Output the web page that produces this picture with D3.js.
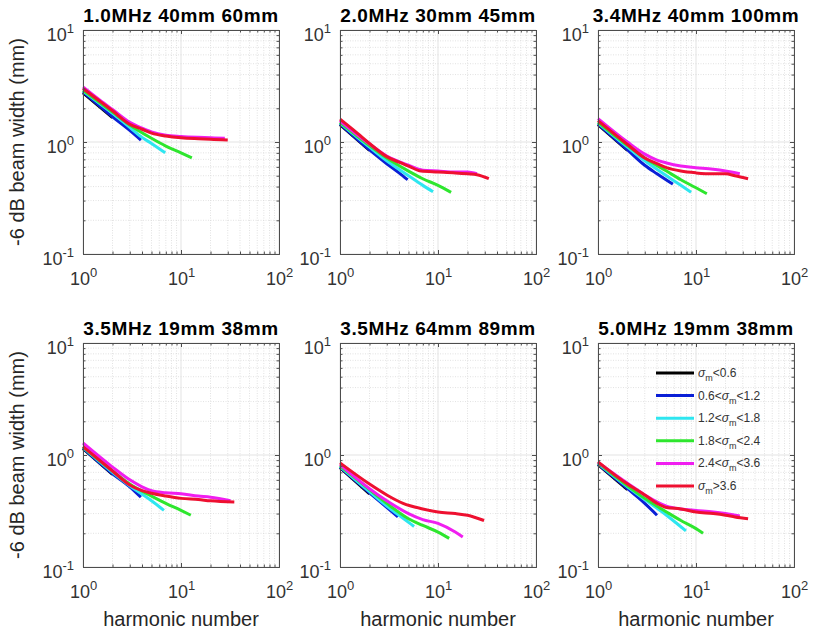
<!DOCTYPE html>
<html>
<head>
<meta charset="utf-8">
<script src="https://cdn.jsdelivr.net/npm/d3@7"></script>
<style>
  body { margin: 0; background: #fff; }
  svg { font-family: "Liberation Sans", Arial, sans-serif; }
</style>
</head>
<body>
<div id="chart"></div>
<script>
// panel titles
const titles = [
  "1.0MHz 40mm 60mm", "2.0MHz 30mm 45mm", "3.4MHz 40mm 100mm",
  "3.5MHz 19mm 38mm", "3.5MHz 64mm 89mm", "5.0MHz 19mm 38mm"
];

// legend labels: text before sigma_m, text after
const seriesLabels = [
  ["", "<0.6"], ["0.6<", "<1.2"], ["1.2<", "<1.8"],
  ["1.8<", "<2.4"], ["2.4<", "<3.6"], ["", ">3.6"]
];
const seriesColors = ["#000000", "#0a1fd6", "#2ee6f0", "#2ee62e", "#f01ef0", "#ee1030"];

const xTicks = [1, 10, 100];
const yTicks = [0.1, 1, 10];

// [harmonic number, beam width (mm)], series order: black, blue, cyan, green, magenta, red
const panel1 = [
  [[1, 2.75], [2, 1.65]],
  [[1, 2.8], [2, 1.68], [3, 1.27], [3.9, 1.04]],
  [[1, 2.85], [2, 1.8], [3, 1.35], [4, 1.1], [5, 0.97], [6.9, 0.8]],
  [[1, 2.9], [2, 1.85], [3, 1.42], [5, 1.08], [7, 0.92], [10, 0.8], [12.9, 0.72]],
  [[1, 3.1], [1.5, 2.35], [2, 1.95], [3, 1.5], [4, 1.33], [5, 1.23], [7, 1.15], [10, 1.12], [15, 1.1], [20, 1.09], [28, 1.08]],
  [[1, 3.0], [1.5, 2.3], [2, 1.9], [3, 1.44], [4, 1.3], [5, 1.2], [7, 1.13], [10, 1.09], [15, 1.07], [20, 1.06], [30, 1.04]]
];
const panel2 = [
  [[1, 1.43], [2, 0.84]],
  [[1, 1.45], [2, 0.85], [3, 0.64], [4, 0.53], [4.9, 0.46]],
  [[1, 1.48], [2, 0.9], [3, 0.68], [5, 0.5], [7, 0.41], [8.9, 0.36]],
  [[1, 1.5], [2, 0.93], [3, 0.72], [5, 0.55], [7, 0.47], [10, 0.41], [13.6, 0.355]],
  [[1, 1.55], [2, 0.96], [3, 0.75], [5, 0.62], [7, 0.56], [10, 0.55], [15, 0.54], [20, 0.54], [25, 0.52]],
  [[1, 1.6], [1.5, 1.2], [2, 0.97], [3, 0.74], [4, 0.66], [5, 0.61], [6.7, 0.55], [10, 0.54], [15, 0.53], [20, 0.52], [25, 0.51], [33, 0.47]]
];
const panel3 = [
  [[1, 1.43], [2, 0.84]],
  [[1, 1.45], [2, 0.85], [3, 0.62], [4, 0.52], [5.8, 0.42]],
  [[1, 1.48], [2, 0.9], [3, 0.68], [5, 0.5], [7, 0.41], [8.9, 0.355]],
  [[1, 1.5], [2, 0.93], [3, 0.72], [5, 0.55], [7, 0.46], [10, 0.39], [12.9, 0.345]],
  [[1, 1.62], [2, 1.0], [3, 0.78], [4, 0.69], [5, 0.65], [7, 0.61], [10, 0.59], [15, 0.57], [20, 0.55], [28, 0.52]],
  [[1, 1.55], [2, 0.95], [3, 0.72], [4, 0.64], [5, 0.59], [7, 0.55], [10, 0.53], [15, 0.52], [20, 0.52], [25, 0.5], [34, 0.47]]
];
const panel4 = [
  [[1, 1.14], [2, 0.67]],
  [[1, 1.15], [2, 0.68], [3, 0.52], [3.9, 0.42]],
  [[1, 1.17], [2, 0.7], [3, 0.53], [5, 0.39], [6.7, 0.32]],
  [[1, 1.18], [2, 0.72], [3, 0.55], [5, 0.43], [7, 0.37], [10, 0.32], [12.6, 0.29]],
  [[1, 1.28], [2, 0.78], [3, 0.6], [4, 0.52], [5, 0.48], [7, 0.46], [10, 0.45], [15, 0.43], [20, 0.42], [32, 0.39]],
  [[1, 1.19], [2, 0.72], [3, 0.54], [4, 0.48], [5, 0.455], [7, 0.43], [10, 0.41], [15, 0.4], [20, 0.39], [35, 0.38]]
];
const panel5 = [
  [[1, 0.77], [2, 0.45]],
  [[1, 0.78], [2, 0.46], [3, 0.34], [3.9, 0.28]],
  [[1, 0.79], [2, 0.47], [3, 0.35], [4, 0.29], [5.7, 0.23]],
  [[1, 0.8], [2, 0.49], [3, 0.37], [5, 0.27], [7, 0.235], [10, 0.205], [13, 0.18]],
  [[1, 0.82], [2, 0.5], [3, 0.39], [5, 0.3], [7, 0.265], [10, 0.245], [15, 0.205], [17.9, 0.185]],
  [[1, 0.85], [2, 0.55], [3, 0.44], [4.4, 0.37], [7, 0.33], [10, 0.31], [15, 0.3], [20, 0.29], [29.5, 0.26]]
];
const panel6 = [
  [[1, 0.82], [2, 0.49]],
  [[1, 0.83], [2, 0.5], [3, 0.37], [4, 0.29]],
  [[1, 0.84], [2, 0.52], [3, 0.4], [5, 0.29], [7.9, 0.21]],
  [[1, 0.85], [2, 0.53], [3, 0.41], [5, 0.31], [7, 0.26], [10, 0.22], [11.8, 0.2]],
  [[1, 0.86], [2, 0.56], [3, 0.44], [5, 0.35], [7, 0.33], [10, 0.32], [15, 0.31], [20, 0.3], [28, 0.285]],
  [[1, 0.87], [2, 0.55], [3, 0.44], [4, 0.37], [5, 0.34], [7, 0.33], [10, 0.31], [15, 0.3], [20, 0.29], [25, 0.28], [34, 0.27]]
];
const panels = [panel1, panel2, panel3, panel4, panel5, panel6];

// layout
const width = 814, height = 635;
const lefts = [83, 340, 598], tops = [30, 343];
const W = 196, H = 224;

const svg = d3.select("#chart").append("svg")
    .attr("width", width)
    .attr("height", height);

const x = d3.scaleLog().domain([1, 100]).range([0, W]);
const y = d3.scaleLog().domain([0.1, 10]).range([H, 0]);

const minorX = [], minorY = [];
[1, 10].forEach(b => { for (let k = 2; k <= 9; k++) minorX.push(b * k); });
[0.1, 1].forEach(b => { for (let k = 2; k <= 9; k++) minorY.push(+(b * k).toFixed(2)); });

const line = d3.line()
    .x(d => x(d[0]))
    .y(d => y(d[1]))
    .curve(d3.curveMonotoneX);

// writes 10^n as text with a raised exponent
function powerLabel(sel) {
  sel.each(function(d) {
    const t = d3.select(this);
    t.text(null);
    t.append("tspan").text("10");
    t.append("tspan").attr("dy", -8).attr("font-size", 13)
        .text(Math.round(Math.log10(d)));
  });
}

panels.forEach((series, i) => {
  const col = i % 3, row = Math.floor(i / 3);
  const g = svg.append("g").attr("transform", `translate(${lefts[col]},${tops[row]})`);

  // grid, minor dotted then major
  g.append("g").selectAll("line").data(minorX).join("line")
      .attr("x1", d => x(d)).attr("x2", d => x(d)).attr("y1", 0).attr("y2", H)
      .attr("stroke", "#d6d6d6").attr("stroke-width", 0.7).attr("stroke-dasharray", "1,1.5");
  g.append("g").selectAll("line").data(minorY).join("line")
      .attr("y1", d => y(d)).attr("y2", d => y(d)).attr("x1", 0).attr("x2", W)
      .attr("stroke", "#d6d6d6").attr("stroke-width", 0.7).attr("stroke-dasharray", "1,1.5");
  g.append("g").selectAll("line").data(xTicks).join("line")
      .attr("x1", d => x(d)).attr("x2", d => x(d)).attr("y1", 0).attr("y2", H)
      .attr("stroke", "#dcdcdc").attr("stroke-width", 0.8);
  g.append("g").selectAll("line").data(yTicks).join("line")
      .attr("y1", d => y(d)).attr("y2", d => y(d)).attr("x1", 0).attr("x2", W)
      .attr("stroke", "#dcdcdc").attr("stroke-width", 0.8);

  // data lines
  g.append("g").selectAll("path").data(series).join("path")
      .attr("d", line)
      .attr("fill", "none")
      .attr("stroke", (d, j) => seriesColors[j])
      .attr("stroke-width", 3)
      .attr("stroke-linejoin", "round");

  // axes with inward ticks
  const axColor = "#4d4d4d";
  const bottom = g.append("g").attr("transform", `translate(0,${H})`)
      .call(d3.axisBottom(x).tickValues(xTicks).tickSizeInner(-4).tickSizeOuter(0));
  bottom.selectAll("text").attr("y", 31).attr("dy", 0).attr("font-size", 18)
      .attr("fill", "#333").call(powerLabel);
  g.append("g").attr("transform", `translate(0,${H})`)
      .call(d3.axisBottom(x).tickValues(minorX).tickFormat("").tickSizeInner(-2.5).tickSizeOuter(0));
  g.append("g").call(d3.axisTop(x).tickValues(xTicks).tickFormat("").tickSizeInner(-4).tickSizeOuter(0));
  g.append("g").call(d3.axisTop(x).tickValues(minorX).tickFormat("").tickSizeInner(-2.5).tickSizeOuter(0));

  const left = g.append("g")
      .call(d3.axisLeft(y).tickValues(yTicks).tickSizeInner(-4).tickSizeOuter(0));
  left.selectAll("text").attr("x", -9).attr("dy", 0).attr("y", 10.5).attr("font-size", 18)
      .attr("fill", "#333").attr("text-anchor", "end").call(powerLabel);
  g.append("g").call(d3.axisLeft(y).tickValues(minorY).tickFormat("").tickSizeInner(-2.5).tickSizeOuter(0));
  g.append("g").attr("transform", `translate(${W},0)`)
      .call(d3.axisRight(y).tickValues(yTicks).tickFormat("").tickSizeInner(-4).tickSizeOuter(0));
  g.append("g").attr("transform", `translate(${W},0)`)
      .call(d3.axisRight(y).tickValues(minorY).tickFormat("").tickSizeInner(-2.5).tickSizeOuter(0));

  g.selectAll(".domain, .tick line").attr("stroke", axColor);
  g.selectAll(".domain").attr("stroke-width", 1);

  // title
  g.append("text")
      .attr("x", W / 2).attr("y", -8)
      .attr("text-anchor", "middle")
      .attr("font-size", 19).attr("font-weight", "bold").attr("fill", "#000")
      .attr("letter-spacing", 0.6)
      .text(titles[i]);

  if (col === 0) {
    g.append("text")
        .attr("transform", `translate(-59,${H / 2}) rotate(-90)`)
        .attr("text-anchor", "middle")
        .attr("font-size", 20).attr("fill", "#262626")
        .text("-6 dB beam width (mm)");
  }
  if (row === 1) {
    g.append("text")
        .attr("x", W / 2).attr("y", H + 59)
        .attr("text-anchor", "middle")
        .attr("font-size", 20).attr("fill", "#262626")
        .text("harmonic number");
  }

  // legend in last panel
  if (i === 5) {
    const lg = g.append("g").attr("transform", "translate(58,30)");
    const item = lg.selectAll("g").data(seriesLabels).join("g")
        .attr("transform", (d, j) => `translate(0,${j * 22.6})`);
    item.append("line")
        .attr("x1", 0).attr("x2", 38)
        .attr("stroke", (d, j) => seriesColors[j]).attr("stroke-width", 3);
    const txt = item.append("text")
        .attr("x", 42).attr("y", 4)
        .attr("font-size", 12).attr("fill", "#333");
    txt.append("tspan").text(d => d[0]);
    txt.append("tspan").attr("font-style", "italic").text("\u03c3");
    txt.append("tspan").attr("font-size", 9).attr("dy", 4).text("m");
    txt.append("tspan").attr("dy", -4).text(d => d[1]);
  }
});
</script>
</body>
</html>
